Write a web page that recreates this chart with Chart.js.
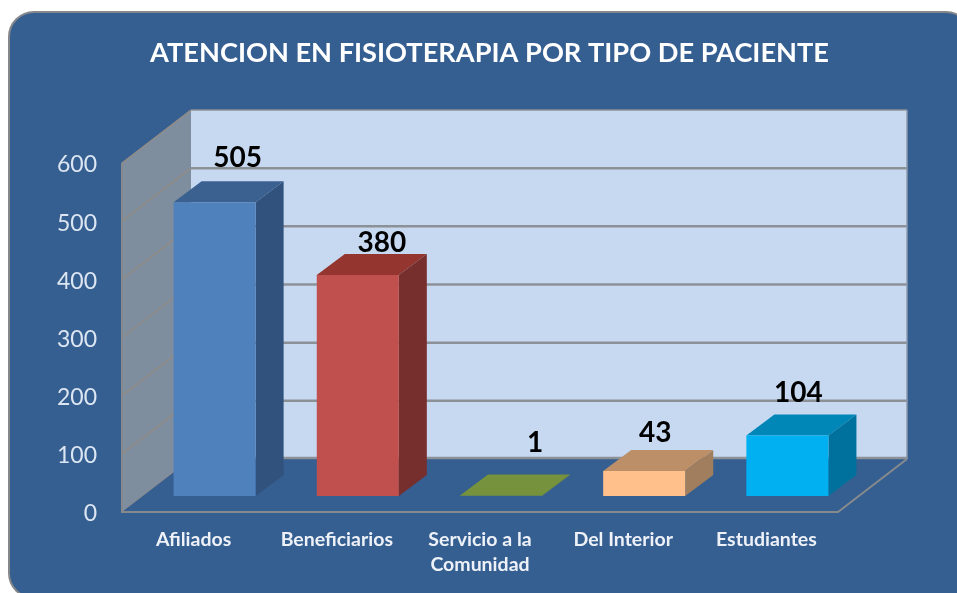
<!DOCTYPE html>
<html lang="es">
<head>
    <meta charset="UTF-8">
    <title>Atencion en Fisioterapia</title>
    <script src="https://cdn.jsdelivr.net/npm/chart.js"></script>
    <style>
        body, html {
            margin: 0;
            padding: 0;
            width: 957px;
            height: 593px;
            background: #fff;
            overflow: hidden;
        }
        .panel {
            position: absolute;
            left: 8px;
            top: 11px;
            width: 964px;
            height: 588px;
            box-sizing: border-box;
            background: #355e91;
            border: 2px solid #85878a;
            border-radius: 26px;
        }
        canvas {
            position: absolute;
            left: 0;
            top: 0;
            filter: blur(0.4px);
        }
    </style>
</head>
<body>
    <div class="panel"></div>
    <canvas id="fisioChart" width="957" height="593"></canvas>
    <script>
      const titleText = 'ATENCION EN FISIOTERAPIA POR TIPO DE PACIENTE';
      const categories = ['Afiliados', 'Beneficiarios', ['Servicio a la', 'Comunidad'], 'Del Interior', 'Estudiantes'];
      const values = [505, 380, 1, 43, 104];
      const yTicks = [0, 100, 200, 300, 400, 500, 600];

      const frontColors = ['#4f81bd', '#c0504d', '#76923c', '#ffc08c', '#00b0f0'];
      const topColors = ['#3a6190', '#94362f', '#76923c', '#bc8f68', '#0087b8'];
      const sideColors = ['#31527c', '#772f2e', '#76923c', '#a17f5e', '#00719d'];

      // fake 3D: wall depth, bar offset from the front plane, bar depth
      const wallDx = 69, wallDy = -53;
      const barShiftX = 21, barShiftY = -16;
      const barDx = 28, barDy = -21;
      const labelNudge = [[23, -44], [24, -32], [34, -52], [11, -38], [11, -43]];

      const room3d = {
        id: 'room3d',
        afterLayout(chart) {
          // title in the picture sits right of the canvas centre
          chart.titleBlock.left += 70.5;
          chart.titleBlock.right += 70.5;
        },
        beforeDatasetsDraw(chart) {
          const { ctx, chartArea: a, scales: { y } } = chart;
          const poly = (pts, fill) => {
            ctx.beginPath();
            pts.forEach((p, i) => i ? ctx.lineTo(p[0], p[1]) : ctx.moveTo(p[0], p[1]));
            ctx.closePath();
            ctx.fillStyle = fill;
            ctx.fill();
          };
          const backL = a.left + wallDx, backR = a.right + wallDx;
          const backT = a.top + wallDy, backB = a.bottom + wallDy;

          poly([[backL, backT], [backR, backT], [backR, backB], [backL, backB]], '#c6d9f1');
          poly([[a.left, a.top], [backL, backT], [backL, backB], [a.left, a.bottom]], '#7f8e9e');

          // grid: diagonal on the left wall, straight on the back wall
          yTicks.forEach(v => {
            const py = y.getPixelForValue(v);
            ctx.beginPath();
            ctx.moveTo(a.left, py);
            ctx.lineTo(backL, py + wallDy);
            ctx.strokeStyle = '#908c88';
            ctx.lineWidth = 1.5;
            ctx.stroke();
            ctx.beginPath();
            ctx.moveTo(backL, py + wallDy);
            ctx.lineTo(backR, py + wallDy);
            ctx.strokeStyle = '#8c9097';
            ctx.lineWidth = v === 600 ? 1.5 : 2.5;
            ctx.stroke();
          });
          ctx.beginPath();
          ctx.moveTo(backR, backT);
          ctx.lineTo(backR, backB);
          ctx.strokeStyle = '#8c9aab';
          ctx.lineWidth = 1.5;
          ctx.stroke();

          // floor
          poly([[a.left, a.bottom], [a.right, a.bottom], [backR, backB], [backL, backB]], '#355e91');
          ctx.beginPath();
          ctx.moveTo(a.left, a.top);
          ctx.lineTo(a.left, a.bottom);
          ctx.lineTo(a.right, a.bottom);
          ctx.lineTo(backR, backB);
          ctx.strokeStyle = '#868a8c';
          ctx.lineWidth = 2;
          ctx.stroke();
          ctx.beginPath();
          ctx.moveTo(backL, backB - 1);
          ctx.lineTo(backR, backB - 1);
          ctx.strokeStyle = '#8c9097';
          ctx.lineWidth = 2.5;
          ctx.stroke();

          // bars are shifted in from the front plane, faces go behind them
          ctx.save();
          ctx.translate(barShiftX, barShiftY);
          chart.getDatasetMeta(0).data.forEach((bar, i) => {
            const l = bar.x - bar.width / 2, r = bar.x + bar.width / 2;
            poly([[l, bar.y], [r, bar.y], [r + barDx, bar.y + barDy], [l + barDx, bar.y + barDy]], topColors[i]);
            poly([[r, bar.y], [r + barDx, bar.y + barDy], [r + barDx, bar.base + barDy], [r, bar.base]], sideColors[i]);
          });
        },
        afterDatasetsDraw(chart) {
          const { ctx } = chart;
          ctx.restore();
          ctx.save();
          ctx.font = 'bold 28px Lato';
          ctx.fillStyle = '#000';
          ctx.textAlign = 'center';
          ctx.textBaseline = 'middle';
          chart.getDatasetMeta(0).data.forEach((bar, i) => {
            ctx.fillText(values[i], bar.x + barShiftX + labelNudge[i][0], bar.y + barShiftY + labelNudge[i][1]);
          });
          ctx.restore();
        }
      };

      new Chart(document.getElementById('fisioChart').getContext('2d'), {
        type: 'bar',
        data: {
          labels: categories,
          datasets: [{
            data: values,
            backgroundColor: frontColors,
            barPercentage: 0.573,
            categoryPercentage: 1
          }]
        },
        options: {
          responsive: false,
          animation: false,
          layout: { padding: { left: 0, top: 0, right: 119, bottom: 0 } },
          plugins: {
            legend: { display: false },
            tooltip: { enabled: false },
            title: {
              display: true,
              text: titleText,
              color: '#ffffff',
              font: { family: 'Lato', size: 27.2, weight: 'bold', lineHeight: 1.2 },
              padding: { top: 37, bottom: 93.4 }
            }
          },
          scales: {
            x: {
              grid: { display: false },
              border: { display: false },
              afterFit(scale) { scale.height = 81; },
              ticks: {
                color: '#eef2f8',
                font: { family: 'Lato', size: 19.5, weight: 'bold', lineHeight: 1.28 },
                padding: 7,
                maxRotation: 0,
                autoSkip: false
              }
            },
            y: {
              min: 0,
              max: 600,
              grid: { display: false },
              border: { display: false },
              afterFit(scale) { scale.width = 122; },
              afterBuildTicks(scale) { scale.ticks = yTicks.map(v => ({ value: v })); },
              ticks: {
                color: '#dce6f2',
                font: { family: 'Lato', size: 23 },
                padding: 17,
                labelOffset: 2
              }
            }
          }
        },
        plugins: [room3d]
      });
    </script>
</body>
</html>
